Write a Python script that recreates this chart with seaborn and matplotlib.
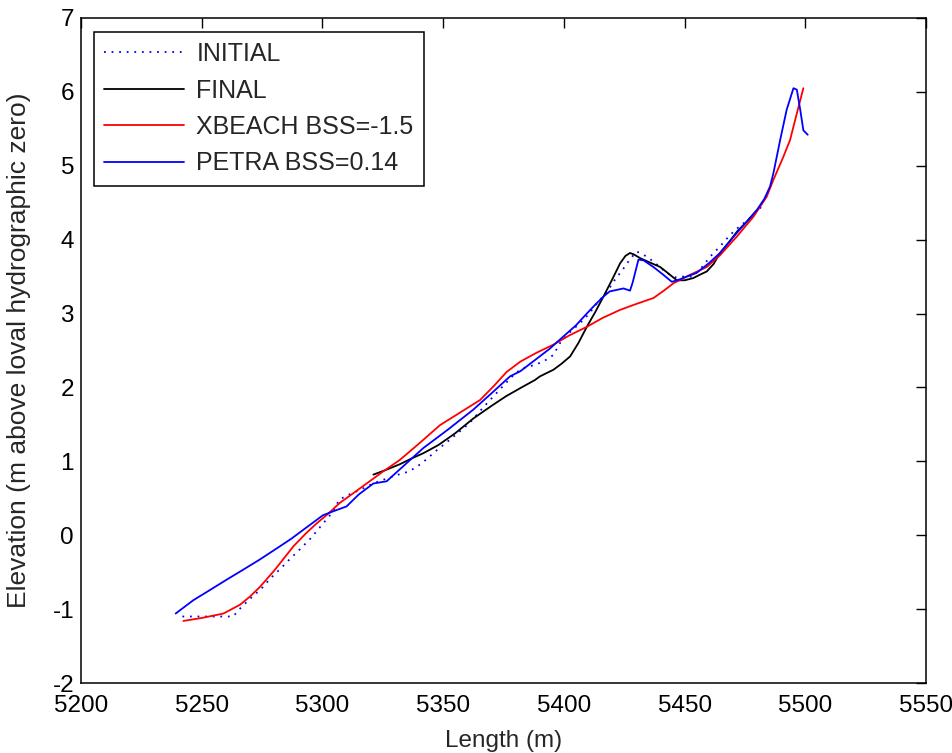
import numpy as np
import pandas as pd
import matplotlib
matplotlib.use("Agg")
import matplotlib.pyplot as plt
import seaborn as sns

# ---------------- data ----------------
initial_x = [5242, 5248, 5253, 5258, 5263, 5266.5, 5270.7, 5274.8, 5278.6, 5282.7,
             5286.6, 5290.7, 5294.9, 5298, 5304.4, 5306.9, 5311, 5316, 5321, 5326,
             5331.4, 5335.6, 5339.3, 5343.2, 5346.6, 5350.8, 5356, 5361, 5366.6, 5372,
             5376, 5379.8, 5383, 5387.4, 5391.5, 5395.7, 5398.4, 5401.9, 5406, 5410,
             5414, 5418, 5421, 5424.7, 5427.5, 5430.2, 5434.4, 5438, 5442.6, 5446,
             5449.5, 5453, 5457, 5460.6, 5464.7, 5468.2, 5470.9, 5474.4, 5478, 5482]
initial_y = [-1.10, -1.10, -1.10, -1.10, -1.10, -0.97, -0.84, -0.72, -0.58, -0.45,
             -0.32, -0.19, -0.05, 0.07, 0.32, 0.48, 0.55, 0.62, 0.70, 0.76,
             0.82, 0.86, 0.93, 1.03, 1.13, 1.24, 1.38, 1.52, 1.73, 1.92,
             2.06, 2.19, 2.26, 2.30, 2.35, 2.44, 2.60, 2.73, 2.85, 2.98,
             3.15, 3.30, 3.45, 3.61, 3.74, 3.84, 3.77, 3.68, 3.55, 3.49,
             3.50, 3.50, 3.62, 3.77, 3.91, 4.04, 4.13, 4.22, 4.32, 4.45]

final_x = [5321.1, 5326, 5332, 5337, 5341.8, 5348, 5355, 5362.5, 5370, 5376,
           5381.9, 5388, 5390.1, 5395.7, 5399, 5402.6, 5406, 5409.5, 5413, 5416.4,
           5420, 5423.3, 5425.5, 5427.4, 5429, 5431.6, 5435, 5439.9, 5443, 5446.8,
           5450, 5453.6, 5456, 5459.2, 5462, 5464.7, 5468, 5472, 5476, 5480.6]
final_y = [0.82, 0.88, 0.96, 1.04, 1.11, 1.22, 1.38, 1.58, 1.75, 1.88,
           1.99, 2.10, 2.15, 2.24, 2.32, 2.42, 2.60, 2.82, 3.02, 3.23,
           3.46, 3.68, 3.78, 3.82, 3.80, 3.75, 3.70, 3.63, 3.55, 3.45,
           3.45, 3.48, 3.52, 3.57, 3.67, 3.82, 3.95, 4.12, 4.25, 4.42]

xbeach_x = [5242.4, 5250, 5259, 5265.9, 5270, 5274.1, 5280, 5288, 5293, 5297.6,
            5302, 5307.3, 5312, 5318.3, 5325, 5332.1, 5340, 5348.7, 5357, 5365.3,
            5371, 5376.3, 5382, 5388.7, 5395.7, 5402, 5409.5, 5416, 5423.3, 5430,
            5437.1, 5441, 5445.4, 5452, 5459.2, 5464.7, 5471.6, 5478.5, 5484, 5486.8,
            5490.9, 5493.7, 5496.5, 5499.2]
xbeach_y = [-1.16, -1.12, -1.06, -0.94, -0.83, -0.70, -0.48, -0.15, 0.02, 0.16,
            0.28, 0.44, 0.55, 0.70, 0.86, 1.02, 1.24, 1.49, 1.66, 1.83,
            2.02, 2.21, 2.35, 2.47, 2.58, 2.70, 2.82, 2.94, 3.05, 3.13,
            3.21, 3.30, 3.41, 3.52, 3.63, 3.79, 4.04, 4.31, 4.58, 4.81,
            5.12, 5.35, 5.71, 6.05]

petra_x = [5239.2, 5246.5, 5253, 5260.4, 5267, 5274, 5281, 5287, 5294, 5300.2,
           5305, 5310, 5315, 5321.1, 5326.6, 5333, 5341.8, 5352, 5362.5, 5370,
           5377.7, 5382, 5388.8, 5394, 5399.8, 5405, 5409.5, 5413, 5416.4, 5419,
           5421.9, 5424.7, 5427.4, 5428.5, 5429.5, 5430.9, 5433, 5437.1, 5441, 5444.7,
           5447, 5450.9, 5455, 5460, 5464.7, 5471.6, 5479.9, 5483, 5485.4, 5486.8,
           5489.6, 5492.3, 5495.1, 5496.5, 5497.9, 5499.2, 5501]
petra_y = [-1.06, -0.88, -0.75, -0.60, -0.47, -0.33, -0.18, -0.05, 0.12, 0.27,
           0.33, 0.39, 0.55, 0.70, 0.73, 0.92, 1.18, 1.43, 1.70, 1.92,
           2.15, 2.22, 2.39, 2.52, 2.69, 2.84, 3.00, 3.12, 3.23, 3.30,
           3.32, 3.34, 3.31, 3.42, 3.55, 3.73, 3.72, 3.63, 3.53, 3.43,
           3.45, 3.50, 3.55, 3.68, 3.82, 4.09, 4.40, 4.55, 4.72, 4.90,
           5.35, 5.76, 6.05, 6.03, 5.76, 5.48, 5.42]

labels = ["INITIAL", "FINAL", "XBEACH BSS=-1.5", "PETRA BSS=0.14"]
x_ticks = [5200, 5250, 5300, 5350, 5400, 5450, 5500, 5550]
y_ticks = [-2, -1, 0, 1, 2, 3, 4, 5, 6, 7]

# ---------------- style ----------------
sns.set_style("white")
plt.rcParams["font.family"] = ["Liberation Sans", "DejaVu Sans"]
plt.rcParams["axes.unicode_minus"] = False

fig = plt.figure(figsize=(9.53, 7.53), dpi=100)
ax = fig.add_axes([81 / 953, 1 - 683 / 753, 845 / 953, 665 / 753])

series = [
    (initial_x, initial_y, labels[0], "#0000ff", (0, (1, 3.2))),
    (final_x, final_y, labels[1], "#000000", "-"),
    (xbeach_x, xbeach_y, labels[2], "#ff0000", "-"),
    (petra_x, petra_y, labels[3], "#0000ff", "-"),
]
for xs, ys, lab, col, ls in series:
    df = pd.DataFrame({"x": xs, "y": ys})
    sns.lineplot(data=df, x="x", y="y", ax=ax, sort=False, estimator=None,
                 color=col, linestyle=ls, linewidth=1.3, label=lab)

ax.set_xlim(5200, 5550)
ax.set_ylim(-2, 7)
ax.set_xticks(x_ticks)
ax.set_yticks(y_ticks)
ax.tick_params(direction="in", length=7, width=1, top=True, right=True,
               labelsize=17.5, colors="black")
ax.tick_params(axis="x", pad=9)
ax.tick_params(axis="y", pad=5)
for s in ax.spines.values():
    s.set_visible(True)
    s.set_color("black")
    s.set_linewidth(1.1)

ax.set_xlabel("Length (m)", fontsize=17.5, labelpad=9)
ax.set_ylabel("Elevation (m above loval hydrographic zero)", fontsize=19)
ax.yaxis.set_label_coords((31 - 81) / 845, 0.5)

leg = ax.legend(loc="upper left", bbox_to_anchor=(13 / 845, 1 - 14 / 665),
                borderaxespad=0, fontsize=18, frameon=True, fancybox=False,
                edgecolor="black", framealpha=1, handlelength=3.2,
                handletextpad=0.5, labelspacing=0.5, borderpad=0.4)
leg.get_frame().set_linewidth(1.1)

fig.savefig("out.png", dpi=100)
